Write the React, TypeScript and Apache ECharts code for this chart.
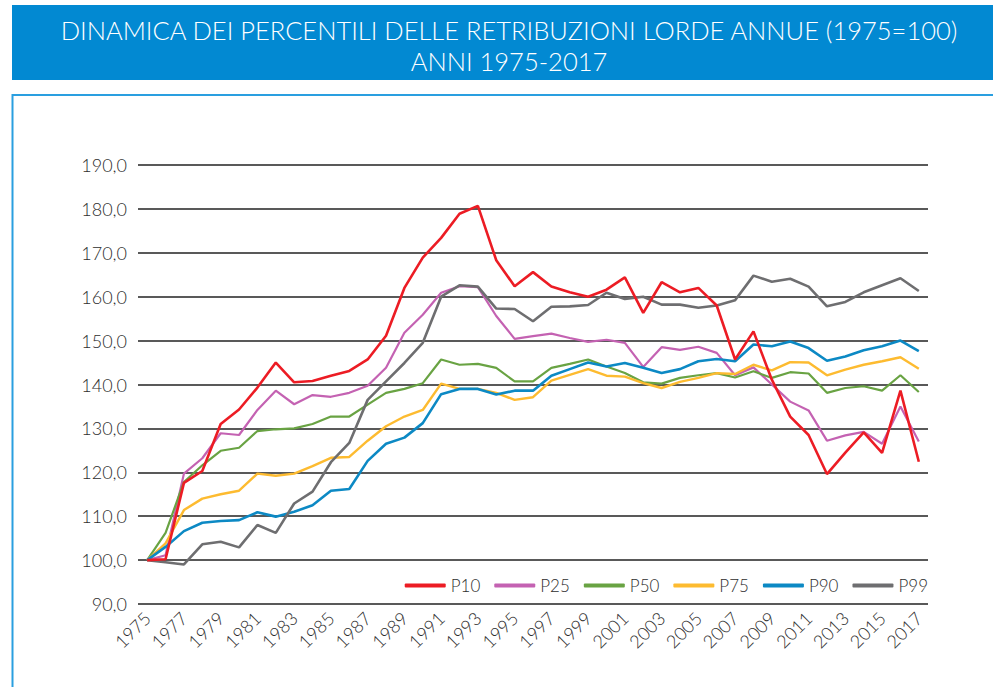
import React, { useEffect, useRef } from "react";
import * as echarts from "echarts";

const years: string[] = [];
for (let y = 1975; y <= 2017; y++) years.push(String(y));

const seriesNames = ["P10", "P25", "P50", "P75", "P90", "P99"];

const p10 = [100, 100.2, 117.6, 120.3, 131.0, 134.3, 139.3, 145.0, 140.5, 140.8, 142.0, 143.1, 145.7, 151.1, 162.0, 168.9, 173.4, 178.9, 180.7, 168.3, 162.4, 165.6, 162.3, 161.0, 160.0, 161.6, 164.4, 156.3, 163.3, 161.0, 162.0, 158.0, 145.7, 152.1, 141.1, 132.7, 128.5, 119.6, 124.5, 129.1, 124.4, 138.6, 122.4];
const p25 = [100, 101.1, 119.7, 123.2, 128.9, 128.5, 134.2, 138.6, 135.5, 137.6, 137.2, 138.1, 139.7, 143.8, 151.8, 155.9, 160.9, 162.4, 162.2, 155.6, 150.4, 151.0, 151.6, 150.6, 149.7, 150.2, 149.5, 144.0, 148.5, 147.9, 148.6, 147.2, 142.1, 143.9, 140.0, 136.1, 134.1, 127.2, 128.4, 129.2, 126.5, 135.0, 127.0];
const p50 = [100, 106.2, 117.8, 121.6, 124.9, 125.6, 129.4, 129.8, 130.0, 131.0, 132.7, 132.7, 135.4, 138.1, 139.0, 140.3, 145.7, 144.5, 144.7, 143.8, 140.7, 140.7, 143.8, 144.7, 145.7, 144.1, 142.6, 140.5, 140.2, 141.5, 142.1, 142.6, 141.6, 143.0, 141.5, 142.8, 142.5, 138.1, 139.2, 139.6, 138.6, 142.1, 138.3];
const p75 = [100, 103.8, 111.4, 114.0, 115.0, 115.8, 119.7, 119.2, 119.7, 121.4, 123.3, 123.5, 127.2, 130.5, 132.7, 134.2, 140.2, 139.0, 139.0, 138.1, 136.5, 137.1, 140.9, 142.2, 143.5, 142.0, 141.8, 140.3, 139.2, 140.6, 141.5, 142.6, 142.4, 144.5, 143.2, 145.1, 145.0, 142.1, 143.4, 144.5, 145.3, 146.2, 143.6];
const p90 = [100, 103.0, 106.6, 108.5, 108.9, 109.1, 110.9, 109.9, 111.0, 112.5, 115.8, 116.2, 122.6, 126.5, 127.9, 131.2, 137.8, 139.0, 139.0, 137.7, 138.6, 138.6, 142.0, 143.5, 145.0, 144.1, 144.9, 143.8, 142.6, 143.5, 145.3, 145.8, 145.3, 149.1, 148.7, 149.8, 148.3, 145.4, 146.4, 147.8, 148.7, 150.0, 147.6];
const p99 = [100, 99.5, 99.0, 103.6, 104.2, 102.9, 108.0, 106.2, 112.9, 115.6, 122.3, 126.7, 136.5, 140.7, 144.9, 149.5, 160.0, 162.6, 162.3, 157.3, 157.2, 154.4, 157.7, 157.8, 158.1, 160.9, 159.5, 160.0, 158.2, 158.2, 157.5, 158.0, 159.2, 164.8, 163.4, 164.1, 162.3, 157.8, 158.8, 161.0, 162.6, 164.2, 161.3];

const seriesData = [p10, p25, p50, p75, p90, p99];
const colors = ["#EC1C24", "#C462B2", "#69A343", "#FDBB30", "#0C89C4", "#6E6E70"];
const widths = [2.6, 2.2, 2.2, 2.4, 2.6, 2.6];

const titleLines = [
  "DINAMICA DEI PERCENTILI DELLE RETRIBUZIONI LORDE ANNUE (1975=100)",
  "ANNI 1975-2017",
];

const FONT = "Lato, 'Open Sans', sans-serif";

export default function App() {
  const ref = useRef<HTMLDivElement>(null);
  useEffect(() => {
    if (!ref.current) return;
    const chart = echarts.init(ref.current, undefined, { renderer: "svg" });
    chart.setOption({
      animation: false,
      backgroundColor: "#ffffff",
      textStyle: { fontFamily: FONT },
      graphic: [
        { type: "rect", shape: { x: 12, y: 5, width: 990, height: 75 }, style: { fill: "#0289D2" }, z: 0 },
        { type: "rect", shape: { x: 12.5, y: 95, width: 990, height: 700 }, style: { fill: "none", stroke: "#2A9FE0", lineWidth: 2 }, z: 0 },
        {
          type: "text",
          x: 509,
          y: 30,
          style: { text: titleLines[0], fill: "#ffffff", font: `300 25.5px ${FONT}`, align: "center", verticalAlign: "middle" },
          z: 1,
        },
        {
          type: "text",
          x: 509,
          y: 61,
          style: { text: titleLines[1], fill: "#ffffff", font: `300 25.5px ${FONT}`, align: "center", verticalAlign: "middle" },
          z: 1,
        },
      ],
      legend: {
        data: seriesNames,
        right: 60,
        top: 572,
        itemWidth: 41,
        itemHeight: 4,
        itemGap: 14,
        icon: "roundRect",
        textStyle: { fontSize: 17, fontWeight: 300, color: "#2e2e2e", fontFamily: FONT },
      },
      grid: { left: 138, right: 65, top: 165, bottom: 83, containLabel: false },
      xAxis: {
        type: "category",
        data: years,
        boundaryGap: true,
        axisLine: { show: false },
        axisTick: { show: false },
        axisLabel: { interval: 1, rotate: 45, fontSize: 18, fontWeight: 300, color: "#2e2e2e", margin: 11, fontFamily: FONT },
        splitLine: { show: false },
      },
      yAxis: {
        type: "value",
        min: 90,
        max: 190,
        interval: 10,
        axisLine: { show: false },
        axisTick: { show: false },
        axisLabel: {
          fontSize: 18,
          fontWeight: 300,
          color: "#2e2e2e",
          margin: 11,
          fontFamily: FONT,
          formatter: (v: number) => v.toFixed(1).replace(".", ","),
        },
        splitLine: { lineStyle: { color: "#222222", width: 1.5 } },
      },
      series: seriesNames.map((name, i) => ({
        name,
        type: "line",
        data: seriesData[i],
        symbol: "none",
        color: colors[i],
        lineStyle: { color: colors[i], width: widths[i] },
        z: i === 0 ? 10 : 2 + i,
      })),
    });
    return () => chart.dispose();
  }, []);
  return <div ref={ref} style={{ position: "fixed", left: 0, top: 0, width: 993, height: 687 }} />;
}
